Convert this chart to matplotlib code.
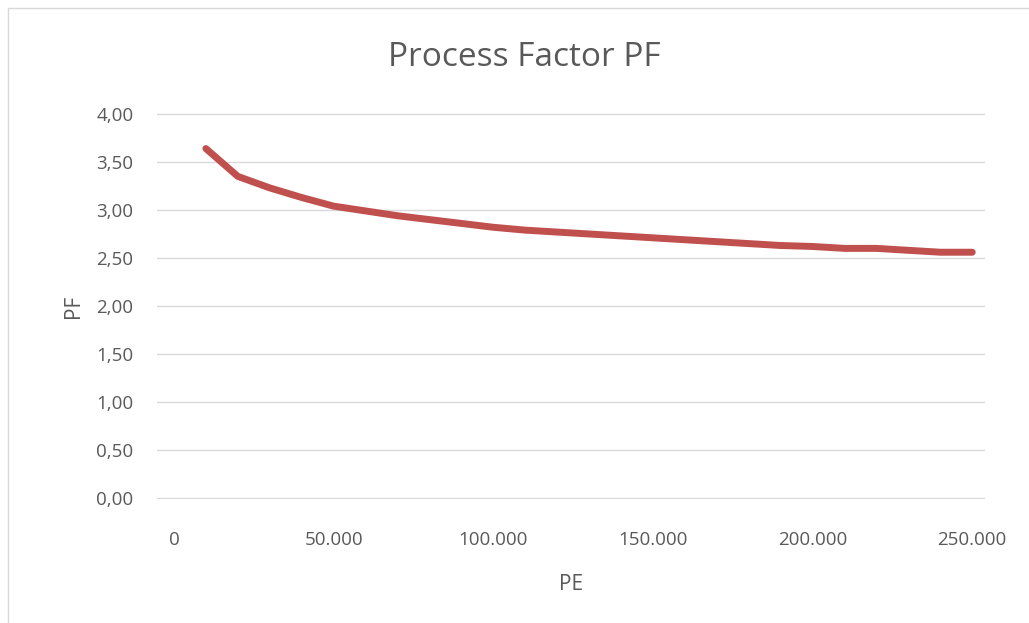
import numpy as np
import matplotlib.pyplot as plt
from matplotlib.ticker import FuncFormatter, MultipleLocator
from matplotlib.patches import Rectangle

plt.rcParams['font.family'] = ['Open Sans', 'DejaVu Sans']

# values
pe = [10000, 20000, 30000, 40000, 50000, 60000, 70000, 80000, 90000, 100000,
      110000, 120000, 130000, 140000, 150000, 160000, 170000, 180000, 190000, 200000,
      210000, 220000, 230000, 240000, 250000]
pf = [3.64, 3.35, 3.23, 3.13, 3.04, 2.99, 2.94, 2.90, 2.86, 2.82,
      2.79, 2.77, 2.75, 2.73, 2.71, 2.69, 2.67, 2.65, 2.63, 2.62,
      2.60, 2.60, 2.58, 2.56, 2.56]

title = "Process Factor PF"
xlab = "PE"
ylab = "PF"

txt = '#595959'
grid = '#D9D9D9'
red = '#C0504D'

W, H = 1029, 623
fig = plt.figure(figsize=(W / 100, H / 100), dpi=100)
fig.patch.set_facecolor('white')

# chart border (only top and left visible in the picture)
fig.add_artist(Rectangle((8 / W, -0.1), 1.2, 1 - 8 / H + 0.1, transform=fig.transFigure,
                         fill=False, edgecolor='#D9D9D9', lw=1))

ax = fig.add_axes([157 / W, 1 - 499 / H, (985 - 157) / W, (499 - 113) / H])
ax.plot(pe, pf, color=red, lw=5, solid_capstyle='round', solid_joinstyle='round')

ax.set_ylim(-0.01, 4.01)
ax.set_xlim(-5300, 254000)
ax.yaxis.set_major_locator(MultipleLocator(0.5))
ax.xaxis.set_major_locator(MultipleLocator(50000))
ax.yaxis.set_major_formatter(FuncFormatter(lambda v, p: f"{v:.2f}".replace('.', ',').replace('-', '')))
ax.xaxis.set_major_formatter(FuncFormatter(lambda v, p: f"{int(round(v)):,}".replace(',', '.')))

ax.grid(axis='y', color=grid, lw=1)
ax.set_axisbelow(True)
for s in ax.spines.values():
    s.set_visible(False)
ax.tick_params(length=0, labelsize=13.5, colors=txt)
ax.tick_params(axis='y', pad=17)
ax.tick_params(axis='x', pad=23)

ax.set_xlabel(xlab, fontsize=15, color=txt, labelpad=18)
ax.set_ylabel(ylab, fontsize=15, color=txt, labelpad=9)
fig.text(524 / W, 1 - 57 / H, title, fontsize=24, color=txt, ha='center', va='center')

fig.savefig('out.png', dpi=100)
